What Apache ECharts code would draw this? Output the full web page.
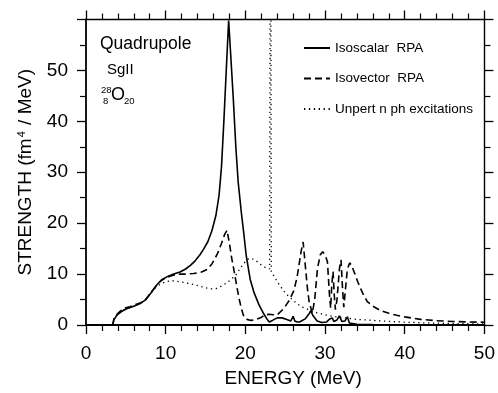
<!DOCTYPE html>
<html>
<head>
<meta charset="utf-8">
<script src="https://cdn.jsdelivr.net/npm/echarts@6/dist/echarts.min.js"></script>
<style>
html,body{margin:0;padding:0;background:#fff;}
#c{width:498px;height:393px;}
</style>
</head>
<body>
<div id="c"></div>
<script>
// Isoscalar RPA (solid)
const isoscalarE = [3.35,3.5,3.9,4.5,5.1,6.0,6.8,7.5,8.1,8.9,9.5,10.2,11.0,11.8,12.5,13.1,13.7,14.3,14.8,15.3,15.8,16.3,16.7,17.0,17.3,17.6,17.9,18.2,18.5,18.8,19.1,19.5,19.8,20.1,20.6,21.1,21.7,22.3,22.7,23.0,23.4,24.0,24.6,25.2,25.7,26.0,26.2,26.5,26.8,27.5,28.0,28.2,28.5,29.0,29.6,30.2,30.6,30.9,31.1,31.5,31.8,32.1,32.5,32.8,33.05,34,36,40,50];
const isoscalarS = [0,1.0,2.0,2.7,3.2,3.7,4.2,5.0,6.2,7.9,8.9,9.5,10.0,10.4,11.0,11.7,12.6,13.8,15.0,16.4,18.5,21.5,25.5,31,40,50,59.8,52,44,35,28,22,18,13.7,9.0,6.3,4.0,2.2,1.2,0.6,0.9,1.4,1.4,1.1,0.8,1.7,0.8,0.6,0.6,1.2,2.2,2.8,1.8,0.8,0.5,0.6,1.2,1.4,0.7,1.0,1.8,0.7,0.8,1.6,0.4,0.15,0.08,0.05,0.02];

// Isovector RPA (dashed)
const isovectorE = [3.35,3.5,4.0,4.5,5.0,5.5,6.2,6.8,7.5,8.1,8.9,9.5,10.2,11.0,11.8,12.5,13.5,14.5,15.2,15.8,16.5,17.0,17.4,17.7,18.0,18.3,18.6,18.9,19.2,19.5,19.8,20.2,20.7,21.2,21.9,22.5,23.0,23.5,24.0,24.8,25.5,26.1,26.5,26.8,27.0,27.25,27.5,27.8,28.0,28.4,28.7,29.05,29.4,29.7,30.0,30.3,30.55,30.7,30.85,31.0,31.15,31.3,31.5,31.8,32.0,32.2,32.35,32.5,32.8,33.1,33.3,33.7,34.1,34.7,35.3,36.0,37.0,38.0,39.0,40.0,42.0,44.0,46.0,48.0,50.0];
const isovectorS = [0,1.2,2.3,3.0,3.4,3.6,4.0,4.3,5.0,6.3,7.9,8.8,9.4,9.8,10.0,10.0,10.1,10.4,10.9,12.0,14.0,16.0,17.8,18.6,16,13,10.5,7.8,5.3,3.2,1.7,1.1,0.9,1.0,1.4,2.0,2.1,2.0,2.0,3.2,4.8,6.8,9.5,12.5,14.5,16.3,12,7,4.6,2.3,5,11.1,13.8,14.4,13.8,12.4,6,3.3,8,10.5,6,3.0,5,11,12.8,7,3.5,6,11,12.2,11.8,10.2,8.5,6.3,4.6,3.7,2.8,2.3,1.9,1.6,1.1,0.85,0.7,0.6,0.55];

// Unperturbed n ph excitations (dotted)
const unpertE = [3.35,3.5,4.0,4.5,5.0,6.0,6.8,7.5,8.1,8.7,9.3,10.0,10.8,11.8,12.8,13.9,15.0,15.8,16.5,17.3,18.0,18.8,19.3,19.8,20.3,20.7,21.2,21.9,22.5,23.05,23.15,23.25,24.0,25.0,26.0,27.0,28.0,29.0,30.0,31.0,32.0,34.0,36.0,38.0,40.0,43.0,46.0,50.0];
const unpertS = [0,1.1,2.2,2.8,3.2,3.7,4.2,5.0,6.2,7.3,8.0,8.5,8.7,8.5,8.2,7.8,7.3,7.1,7.2,7.9,8.7,9.8,11.0,12.1,12.9,13.1,12.8,11.9,11.3,11.0,120,10.5,8.5,6.3,4.8,3.6,3.0,2.4,2.0,1.7,1.5,1.1,0.9,0.7,0.55,0.4,0.3,0.2];

const xTicks = [0,10,20,30,40,50];
const yTicks = [0,10,20,30,40,50];
const seriesNames = ['Isoscalar  RPA','Isovector  RPA','Unpert n ph excitations'];

const FONT = 'Liberation Sans, Arial, Helvetica, sans-serif';
const zip = (a,b) => a.map((v,i)=>[v,b[i]]);

const chart = echarts.init(document.getElementById('c'), null, {renderer:'canvas'});

const baseX = {
  type:'value', min:0, max:50, interval:10,
  splitLine:{show:false},
  axisLine:{show:true, onZero:false, lineStyle:{color:'#000', width:1.8}},
  axisTick:{show:true, inside:false, length:9, lineStyle:{color:'#000', width:1.3}},
  minorTick:{show:true, splitNumber:5, length:6, lineStyle:{color:'#000', width:1.2}},
};
const baseY = {
  type:'value', min:0, max:60, interval:10,
  splitLine:{show:false},
  axisLine:{show:true, onZero:false, lineStyle:{color:'#000', width:1.8}},
  axisTick:{show:true, inside:false, length:9, lineStyle:{color:'#000', width:1.3}},
  minorTick:{show:true, splitNumber:2, length:6, lineStyle:{color:'#000', width:1.2}},
};

const option = {
  animation:false,
  backgroundColor:'#fff',
  textStyle:{fontFamily:FONT},
  grid:{left:86, right:13, top:19.5, bottom:66},
  legend:{
    orient:'vertical', left:298, top:36,
    itemWidth:26, itemHeight:14, itemGap:16.5,
    itemStyle:{opacity:0},
    textStyle:{fontFamily:FONT, fontSize:13.5, color:'#000'},
    data:seriesNames
  },
  xAxis:[
    Object.assign({}, baseX, {
      position:'bottom',
      name:'ENERGY (MeV)', nameLocation:'middle', nameGap:44,
      nameTextStyle:{fontFamily:FONT, fontSize:19, color:'#000', padding:[0,0,0,16]},
      axisLabel:{show:true, margin:19, fontFamily:FONT, fontSize:19, color:'#000',
        formatter:v => xTicks.indexOf(v) >= 0 ? String(v) : ''}
    }),
    Object.assign({}, baseX, {position:'top', axisLabel:{show:false},
      axisLine:{show:true, onZero:false, lineStyle:{color:'#000', width:1.4}}})
  ],
  yAxis:[
    Object.assign({}, baseY, {
      position:'left',
      name:'{a|STRENGTH (fm}{s|4}{a| / MeV)}', nameLocation:'middle', nameGap:51,
      nameTextStyle:{fontFamily:FONT, color:'#000',
        rich:{a:{fontFamily:FONT, fontSize:19, color:'#000'},
              s:{fontFamily:FONT, fontSize:11, color:'#000', verticalAlign:'top', padding:[0,1,8,1]}}},
      axisLabel:{show:true, margin:18, fontFamily:FONT, fontSize:19, color:'#000',
        formatter:v => yTicks.indexOf(v) >= 0 ? String(v) : ''}
    }),
    Object.assign({}, baseY, {position:'right', axisLabel:{show:false},
      axisLine:{show:true, onZero:false, lineStyle:{color:'#000', width:1.4}}})
  ],
  graphic:[
    {type:'text', left:100, top:35, style:{text:'Quadrupole', fontFamily:FONT, fontSize:17.5, fill:'#000'}},
    {type:'text', left:107, top:62, style:{text:'SgII', fontFamily:FONT, fontSize:15, fill:'#000'}},
    {type:'text', left:101, top:85, style:{text:'28', fontFamily:FONT, fontSize:9.5, fill:'#000'}},
    {type:'text', left:103, top:96, style:{text:'8', fontFamily:FONT, fontSize:9.5, fill:'#000'}},
    {type:'text', left:111, top:86, style:{text:'O', fontFamily:FONT, fontSize:18, fill:'#000'}},
    {type:'text', left:124, top:96, style:{text:'20', fontFamily:FONT, fontSize:9.5, fill:'#000'}}
  ],
  series:[
    {name:seriesNames[0], type:'line', data:zip(isoscalarE, isoscalarS), showSymbol:false, symbol:'none',
      lineStyle:{color:'#000', width:1.6, type:'solid'}, itemStyle:{color:'#000'}},
    {name:seriesNames[1], type:'line', data:zip(isovectorE, isovectorS), showSymbol:false, symbol:'none',
      lineStyle:{color:'#000', width:1.6, type:[7,4]}, itemStyle:{color:'#000'}},
    {name:seriesNames[2], type:'line', data:zip(unpertE, unpertS), showSymbol:false, symbol:'none',
      lineStyle:{color:'#000', width:1.3, type:[1.3,3.6]}, itemStyle:{color:'#000'}}
  ]
};
chart.setOption(option);
</script>
</body>
</html>
